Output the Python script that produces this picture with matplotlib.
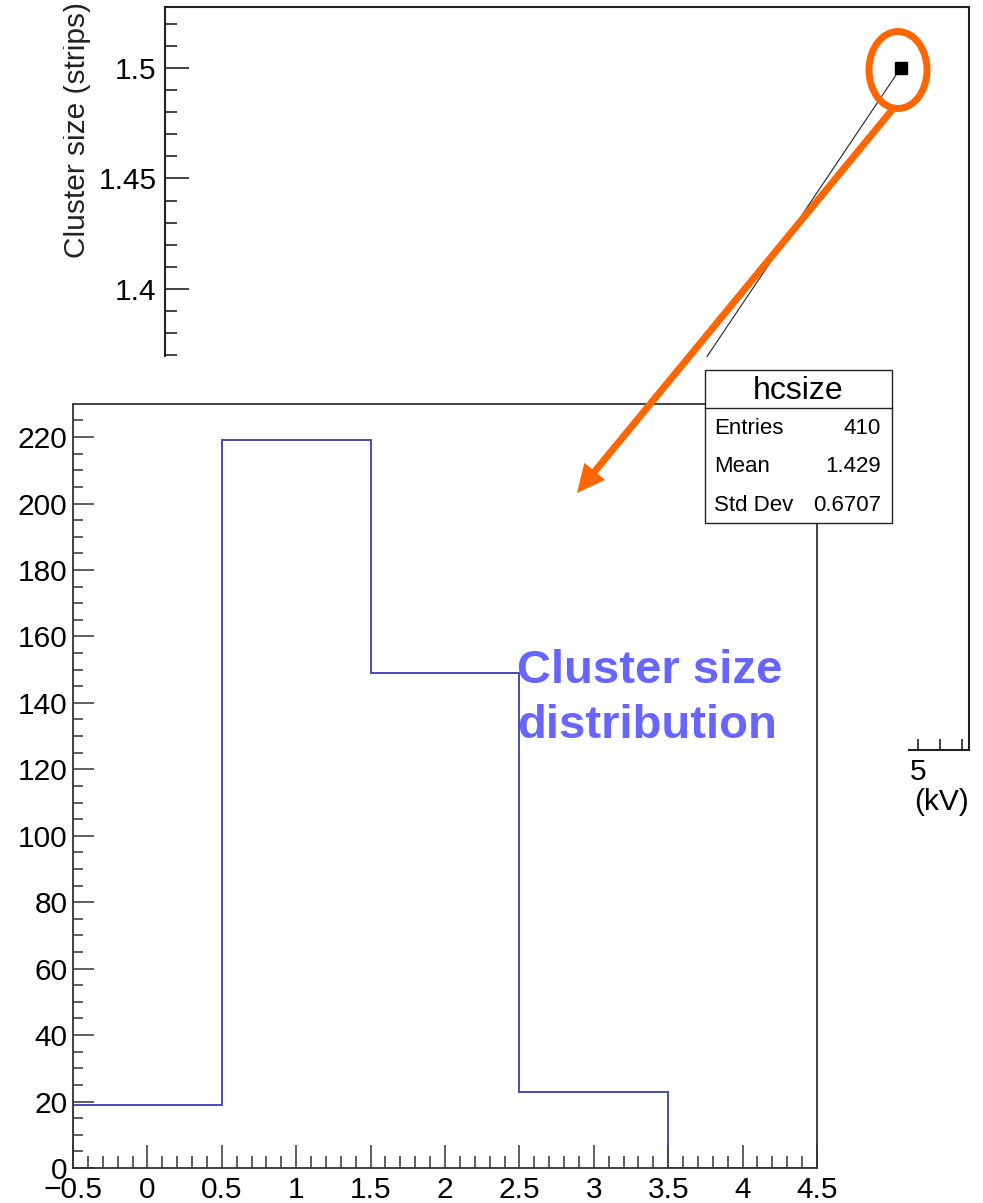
import matplotlib.pyplot as plt
from matplotlib.patches import Ellipse, Rectangle
from matplotlib.ticker import MultipleLocator, FuncFormatter
from matplotlib.transforms import Bbox
import numpy as np

plt.rcParams['font.family'] = ['Liberation Sans', 'DejaVu Sans']

# mean cluster size vs HV (the canvas pad hides everything but the last point)
hv_kv = [3.62, 4.92]
cluster_mean = [1.307, 1.50]

# hcsize histogram
bin_edges = [-0.5, 0.5, 1.5, 2.5, 3.5, 4.5]
bin_counts = [19, 219, 149, 23, 0]

W, H = 983, 1203
fig = plt.figure(figsize=(W / 100, H / 100), dpi=100)


def px_axes(x0, y0, x1, y1, **kw):
    # axes from pixel box (top-left origin)
    return fig.add_axes([x0 / W, 1 - y1 / H, (x1 - x0) / W, (y1 - y0) / H], **kw)


def fmt_g(v, pos):
    return ('%g' % round(v, 4)).replace('-', '\u2212')


ORANGE = '#ff6600'
HIST_BLUE = '#4a4ac0'
FS = 21.5

# ---- background canvas: cluster size vs HV ----
ax_bg = px_axes(165, 7, 969, 750, zorder=1)
ax_bg.plot(hv_kv, cluster_mean, color='#222222', lw=0.8,
           marker='s', ms=8.5, mfc='black', mec='black')
ax_bg.set_xlim(1.58, 5.23)
ax_bg.set_ylim(1.1914, 1.5276)
ax_bg.xaxis.set_major_locator(MultipleLocator(0.5))
ax_bg.xaxis.set_minor_locator(MultipleLocator(0.1))
ax_bg.yaxis.set_major_locator(MultipleLocator(0.05))
ax_bg.yaxis.set_minor_locator(MultipleLocator(0.01))
ax_bg.xaxis.set_major_formatter(FuncFormatter(fmt_g))
ax_bg.yaxis.set_major_formatter(FuncFormatter(fmt_g))
ax_bg.tick_params(which='both', direction='in', right=False, top=False,
                  labelsize=FS, width=1.2, color='#222222')
ax_bg.tick_params(axis='y', which='major', length=17, pad=6)
ax_bg.tick_params(axis='y', which='minor', length=8.5)
ax_bg.tick_params(axis='x', which='both', length=8, pad=6)
for sp in ax_bg.spines.values():
    sp.set_linewidth(1.5)
    sp.set_color('#222222')
ax_bg.set_xlabel('(kV)', loc='right', fontsize=FS, labelpad=1)

ylab = fig.text(77 / W, 1 - 258 / H, 'Cluster size (strips)', rotation=90,
                ha='center', va='bottom', fontsize=FS, color='#222222')
ylab.set_clip_box(Bbox.from_extents(63, 0, W, H))
ylab.set_clip_on(True)

# white pad drawn over the canvas
fig.add_artist(Rectangle((-10 / W, -10 / H), 918 / W, (H - 357 + 10) / H,
                         transform=fig.transFigure, facecolor='white',
                         edgecolor='none', zorder=2))

# ---- histogram pad ----
ax_h = px_axes(73, 404, 817, 1168, zorder=3)
ax_h.set_facecolor('none')
ax_h.stairs(bin_counts, bin_edges, color=HIST_BLUE, lw=1.4)
ax_h.set_xlim(bin_edges[0], bin_edges[-1])
ax_h.set_ylim(0, 1.05 * max(bin_counts))
ax_h.xaxis.set_major_locator(MultipleLocator(0.5))
ax_h.xaxis.set_minor_locator(MultipleLocator(0.1))
ax_h.yaxis.set_major_locator(MultipleLocator(20))
ax_h.yaxis.set_minor_locator(MultipleLocator(5))
ax_h.xaxis.set_major_formatter(FuncFormatter(fmt_g))
ax_h.tick_params(which='both', direction='in', right=False, top=False,
                 labelsize=FS, width=1.2, color='#444444')
ax_h.tick_params(axis='y', which='major', length=15, pad=4)
ax_h.tick_params(axis='y', which='minor', length=7.5)
ax_h.tick_params(axis='x', which='major', length=16.5, pad=6)
ax_h.tick_params(axis='x', which='minor', length=8.5)
for sp in ax_h.spines.values():
    sp.set_linewidth(1.3)
    sp.set_color('#333333')

# ---- overlay in pixel coordinates: stats box, annotation ----
ax_ov = fig.add_axes([0, 0, 1, 1], zorder=5)
ax_ov.set_xlim(0, W)
ax_ov.set_ylim(H, 0)
ax_ov.axis('off')

centers = 0.5 * (np.array(bin_edges[:-1]) + np.array(bin_edges[1:]))
counts = np.array(bin_counts)
entries = counts.sum()
mean = (centers * counts).sum() / entries
std = np.sqrt((counts * (centers - mean) ** 2).sum() / entries)

ax_ov.add_patch(Rectangle((705, 370), 187, 153, facecolor='white',
                          edgecolor='#222222', lw=1.0))
ax_ov.plot([705, 892], [408, 408], color='#222222', lw=1.0)
ax_ov.text(798, 399, 'hcsize', ha='center', va='baseline', fontsize=23)
rows = [('Entries', '%d' % entries), ('Mean', '%.3f' % mean),
        ('Std Dev', '%.4f' % std)]
for i, (name, val) in enumerate(rows):
    yb = 434 + i * 38.5
    ax_ov.text(714, yb, name, ha='left', va='baseline', fontsize=16)
    ax_ov.text(881, yb, val, ha='right', va='baseline', fontsize=16)

ax_ov.text(517, 683, 'Cluster size', ha='left', va='baseline', fontsize=34,
           fontweight='bold', color='#6666ff')
ax_ov.text(517, 738, 'distribution', ha='left', va='baseline', fontsize=34,
           fontweight='bold', color='#6666ff')

ax_ov.add_patch(Ellipse((898, 70), 58, 77, fill=False, edgecolor=ORANGE, lw=5))
ax_ov.arrow(892, 110, 577 - 892, 493 - 110, width=7, head_width=27,
            head_length=28, length_includes_head=True, color=ORANGE, lw=0)

fig.savefig('out.png', dpi=100)
